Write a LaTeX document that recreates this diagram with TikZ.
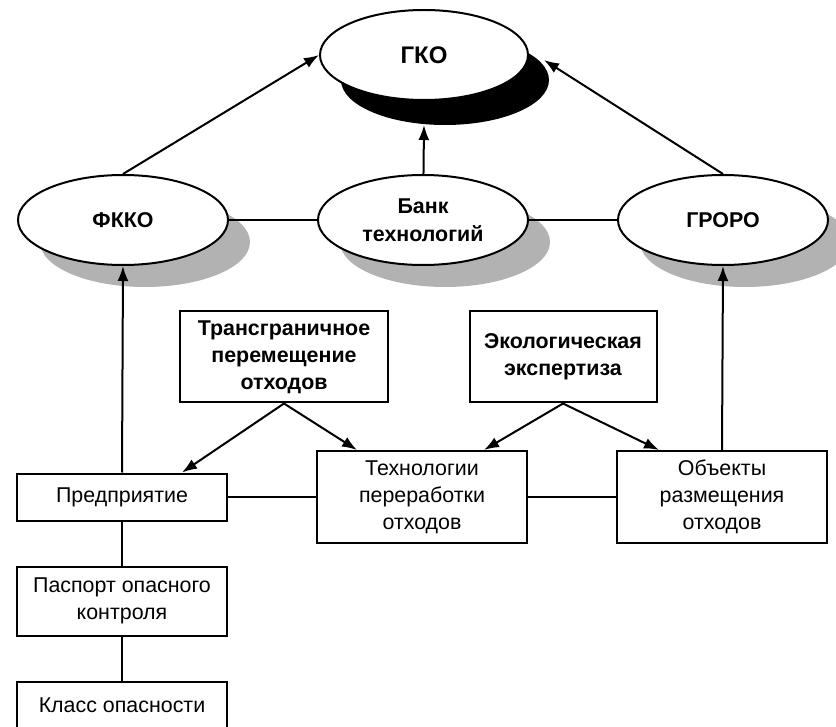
\documentclass[tikz,border=0pt]{standalone}
\usepackage{fontspec}
\setmainfont{Liberation Sans}
\usetikzlibrary{shapes.geometric,shadows,positioning,arrows.meta}
\begin{document}
\begin{tikzpicture}[x=0.5pt,y=-0.5pt,node distance=150pt,>={Latex[length=7.5pt,width=5.5pt]},line width=1pt,
    font=\fontsize{10.7}{13.5}\selectfont]
    \tikzstyle{ovalA}=[ellipse, draw, fill=white, inner sep=0pt, minimum width=105pt, minimum height=45pt, align=center, font=\fontsize{10.7}{14}\selectfont\bfseries,
      drop shadow={shadow xshift=11pt, shadow yshift=-11pt, fill=black!30, opacity=1, draw=none}]
    \tikzstyle{ovalTop}=[ellipse, draw, fill=white, inner sep=0pt, minimum width=104pt, minimum height=45pt, font=\fontsize{12}{14}\selectfont\bfseries,
      drop shadow={shadow xshift=10.5pt, shadow yshift=-12.5pt, fill=black, opacity=1, draw=none}]
    \tikzstyle{boxA}=[rectangle, draw, fill=white, minimum width=105pt, minimum height=23.5pt, align=center]
    \tikzstyle{boxB}=[rectangle, draw, fill=white, minimum width=105pt, minimum height=46pt, align=center]
    \tikzstyle{boxHead}=[rectangle, draw, fill=white, minimum height=45.5pt, align=center, font=\fontsize{10.7}{13.5}\selectfont\bfseries]
    \useasboundingbox (0,0) rectangle (836,727);
    \node[ovalTop] (gko) at (424,55) {ГКО};
    \node[ovalA] (fkko) at (123,220) {ФККО};
    \node[ovalA, right of=fkko] (bank) {Банк\\технологий};
    \node[ovalA, right of=bank] (groro) {ГРОРО};
    \node[boxHead, minimum width=104pt] (trans) at (284,357) {Трансграничное\\перемещение\\отходов};
    \node[boxHead, minimum width=93.5pt] (eco) at (563,357) {Экологическая\\экспертиза};
    \node[boxA] (pred) at (122,497) {Предприятие};
    \node[boxB, right of=pred] (tech) {Технологии\\переработки\\отходов};
    \node[boxB, right of=tech] (obj) {Объекты\\размещения\\отходов};
    \node[boxB, below of=pred, node distance=52pt, minimum height=34.5pt] (pasp) {Паспорт опасного\\контроля};
    \node[boxA, below of=pasp, node distance=52pt] (klass) {Класс опасности};
    \draw[->] (fkko.north) -- (gko.west);
    \draw[->] (bank) -- ([yshift=-12pt]gko.south);
    \draw[->] (groro.north) -- ([xshift=7.5pt,yshift=-2.5pt]gko.east);
    \draw (fkko) -- (bank);
    \draw (bank) -- (groro);
    \draw[->] (pred.north) -- (fkko.south);
    \draw[->] (obj.north) -- (groro.south);
    \draw[->] (trans.south) -- ([xshift=30pt]pred.north);
    \draw[->] (trans.south) -- ([xshift=-32.5pt]tech.north);
    \draw[->] (eco.south) -- ([xshift=31pt]tech.north);
    \draw[->] (eco.south) -- ([xshift=-31.5pt]obj.north);
    \draw (pred) -- (tech);
    \draw (tech) -- (obj);
    \draw (pred) -- (pasp);
    \draw (pasp) -- (klass);
  \end{tikzpicture}
\end{document}
